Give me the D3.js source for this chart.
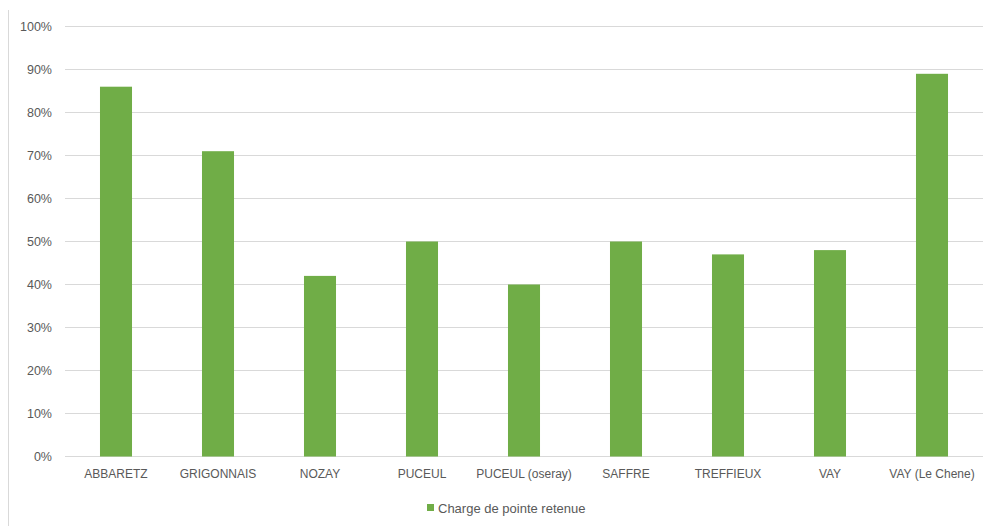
<!DOCTYPE html>
<html>
<head>
<meta charset="utf-8">
<script src="https://cdn.jsdelivr.net/npm/d3@7"></script>
<style>
  body { margin: 0; background: #fff; }
  text { font-family: "Liberation Sans", Arial, sans-serif; }
</style>
</head>
<body>
<div id="chart"></div>
<script>
const categories = ['ABBARETZ', 'GRIGONNAIS', 'NOZAY', 'PUCEUL', 'PUCEUL (oseray)', 'SAFFRE', 'TREFFIEUX', 'VAY', 'VAY (Le Chene)'];
const values = [0.86, 0.71, 0.42, 0.50, 0.40, 0.50, 0.47, 0.48, 0.89];
const yTicks = [0, 0.1, 0.2, 0.3, 0.4, 0.5, 0.6, 0.7, 0.8, 0.9, 1];
const seriesName = 'Charge de pointe retenue';

const W = 988;
const H = 526;
const margin = { t: 26.5, r: 5, b: 69.5, l: 65 };
const w = W - margin.l - margin.r;
const h = H - margin.t - margin.b;
const barColor = '#70ad47';
const textColor = '#595959';

const svg = d3.select('#chart').append('svg')
  .attr('width', W)
  .attr('height', H);

// outer chart border (left edge only visible)
svg.append('line')
  .attr('x1', 8.5).attr('x2', 8.5)
  .attr('y1', 10).attr('y2', H)
  .attr('stroke', '#d9d9d9');

const g = svg.append('g')
  .attr('transform', `translate(${margin.l}, ${margin.t})`);

const x = d3.scaleBand()
  .domain(categories)
  .range([0, w])
  .paddingInner(0.686)
  .paddingOuter(0.343);

const y = d3.scaleLinear()
  .domain([0, 1])
  .range([h, 0]);

// gridlines
g.append('g')
  .selectAll('line')
  .data(yTicks)
  .join('line')
  .attr('x1', 0)
  .attr('x2', w)
  .attr('y1', d => y(d))
  .attr('y2', d => y(d))
  .attr('stroke', '#d9d9d9')
  .attr('stroke-width', 1);

// y axis labels
const yAxis = d3.axisLeft(y)
  .tickValues(yTicks)
  .tickFormat(d3.format('.0%'))
  .tickSize(0)
  .tickPadding(13);

g.append('g')
  .call(yAxis)
  .call(sel => sel.select('.domain').remove())
  .selectAll('text')
  .attr('fill', textColor)
  .style('font-size', '12.5px');

// bars
g.append('g')
  .selectAll('rect')
  .data(values)
  .join('rect')
  .attr('x', (d, i) => x(categories[i]))
  .attr('width', x.bandwidth())
  .attr('y', d => y(d))
  .attr('height', d => h - y(d))
  .attr('fill', barColor);

// x axis
const xAxis = d3.axisBottom(x)
  .tickSize(0)
  .tickPadding(13);

g.append('g')
  .attr('transform', `translate(0, ${h})`)
  .call(xAxis)
  .call(sel => sel.select('.domain').remove())
  .selectAll('text')
  .attr('fill', textColor)
  .style('font-size', '12px');

// legend
const legend = svg.append('g')
  .attr('transform', 'translate(427, 508)');

legend.append('rect')
  .attr('x', 0)
  .attr('y', -4)
  .attr('width', 7)
  .attr('height', 7)
  .attr('fill', barColor);

legend.append('text')
  .attr('x', 11)
  .attr('y', 0)
  .attr('dy', '0.35em')
  .attr('fill', textColor)
  .style('font-size', '13px')
  .text(seriesName);
</script>
</body>
</html>
